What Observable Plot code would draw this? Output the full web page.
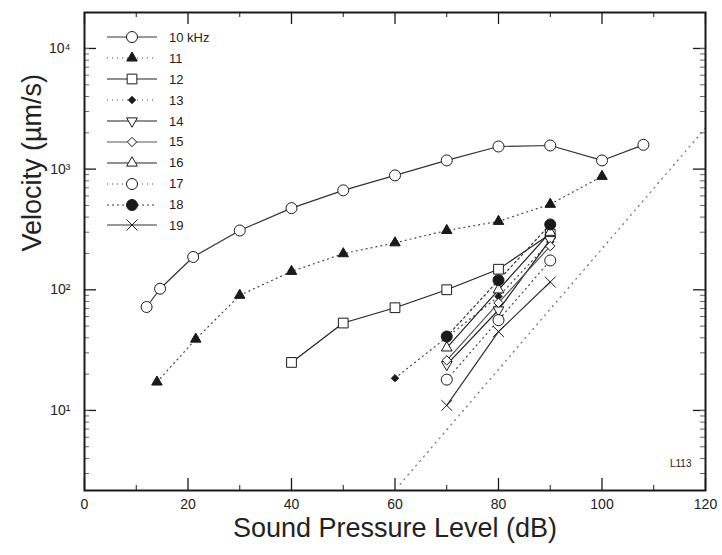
<!DOCTYPE html>
<html>
<head>
<meta charset="utf-8">
<script src="https://cdn.jsdelivr.net/npm/d3@7"></script>
<script src="https://cdn.jsdelivr.net/npm/@observablehq/plot@0.6"></script>
<style>
  html, body { margin: 0; padding: 0; background: #fff; }
  #wrap { position: relative; width: 722px; height: 555px; font-family: "Liberation Sans", Arial, sans-serif; }
  #legend { position: absolute; left: 107px; top: 27px; }
  .row { display: flex; align-items: center; height: 20.9px; }
  .row span { margin-left: 12px; font-size: 13px; color: #222; }
</style>
</head>
<body>
<div id="wrap"><div id="legend"></div></div>
<script>
// ---- data ----
const seriesNames = ["10 kHz", "11", "12", "13", "14", "15", "16", "17", "18", "19"];
const spl10 = [12, 14.6, 21, 30, 40, 50, 60, 70, 80, 90, 100, 108];
const vel10 = [72, 102, 187, 310, 475, 667, 887, 1180, 1540, 1570, 1180, 1590];
const spl11 = [14, 21.5, 30, 40, 50, 60, 70, 80, 90, 100];
const vel11 = [17.2, 39, 90, 142, 199, 245, 310, 369, 511, 871];
const spl12 = [40, 50, 60, 70, 80, 90];
const vel12 = [25, 53, 71, 100, 148, 290];
const spl13 = [60, 80, 90];
const vel13 = [18.5, 88, 250];
const spl14 = [70, 80, 90];
const vel14 = [24, 68, 260];
const spl15 = [70, 80, 90];
const vel15 = [26, 78, 230];
const spl16 = [70, 80, 90];
const vel16 = [33, 100, 300];
const spl17 = [70, 80, 90];
const vel17 = [18, 56, 175];
const spl18 = [70, 80, 90];
const vel18 = [41, 120, 348];
const spl19 = [70, 80, 90];
const vel19 = [11, 45, 116];
// dotted reference line (20 dB per decade)
const refSpl = [61, 120];
const refVel = [2.45, 2190];
const xTickValues = [0, 20, 40, 60, 80, 100, 120];
const xMinorValues = [10, 30, 50, 70, 90, 110];
const yTickValues = [10, 100, 1000, 10000];
const yTickLabels = ["10\u00b9", "10\u00b2", "10\u00b3", "10\u2074"];

// ---- styles ----
const sqrt3 = Math.sqrt(3);
const triangleDown = {
  draw(context, size) {
    const y = Math.sqrt(size / (sqrt3 * 3));
    context.moveTo(0, y * 2);
    context.lineTo(-sqrt3 * y, -y);
    context.lineTo(sqrt3 * y, -y);
    context.closePath();
  }
};
const ink = "#1a1a1a";
const styles = [
  {symbol: "circle", d3sym: d3.symbolCircle, filled: false, dash: null, r: 5.5, stroke: "#333"},
  {symbol: "triangle", d3sym: d3.symbolTriangle, filled: true, dash: "1,4", r: 3.9, stroke: "#444"},
  {symbol: "square", d3sym: d3.symbolSquare, filled: false, dash: null, r: 5.5, stroke: "#222"},
  {symbol: "diamond2", d3sym: d3.symbolDiamond2, filled: true, dash: "1,4", r: 3.3, stroke: "#444"},
  {symbol: triangleDown, d3sym: triangleDown, filled: false, dash: null, r: 4, stroke: "#222"},
  {symbol: "diamond2", d3sym: d3.symbolDiamond2, filled: false, dash: null, r: 4.2, stroke: "#555"},
  {symbol: "triangle", d3sym: d3.symbolTriangle, filled: false, dash: null, r: 4, stroke: "#222"},
  {symbol: "circle", d3sym: d3.symbolCircle, filled: false, dash: "1,4", r: 5.5, stroke: "#444"},
  {symbol: "circle", d3sym: d3.symbolCircle, filled: true, dash: "2,3", r: 5.5, stroke: "#333"},
  {symbol: "times", d3sym: d3.symbolTimes, filled: false, dash: null, r: 5, stroke: "#333"}
];
const splArrays = [spl10, spl11, spl12, spl13, spl14, spl15, spl16, spl17, spl18, spl19];
const velArrays = [vel10, vel11, vel12, vel13, vel14, vel15, vel16, vel17, vel18, vel19];
const series = seriesNames.map((name, i) => ({
  name, ...styles[i],
  data: splArrays[i].map((x, j) => ({spl: x, vel: velArrays[i][j]}))
}));
const refLine = refSpl.map((x, j) => ({spl: x, vel: refVel[j]}));

// minor log ticks
const yMinorValues = [];
for (const p of [1, 10, 100, 1000, 10000]) for (let m = 2; m <= 9; m++) {
  const v = m * p; if (v > 2.17 && v < 19860) yMinorValues.push(v);
}
yMinorValues.push(...yTickValues);

const W = 722, H = 555, mL = 84, mR = 17, mT = 12, mB = 65;
const innerH = H - mT - mB, innerW = W - mL - mR;

const marks = [
  Plot.line(refLine, {x: "spl", y: "vel", stroke: "#777", strokeDasharray: "1,5", strokeWidth: 1.3}),
  ...series.map(s => Plot.line(s.data, {x: "spl", y: "vel", stroke: s.stroke, strokeWidth: 1.2, strokeDasharray: s.dash})),
  ...series.map(s => Plot.dot(s.data, {x: "spl", y: "vel", symbol: s.symbol, r: s.r,
      fill: s.filled ? ink : (s.symbol === "times" ? "none" : "white"), stroke: ink, strokeWidth: 1})),
  // inward ticks on all sides
  Plot.tickX(xTickValues, {x: d => d, insetTop: innerH - 12, stroke: ink, strokeWidth: 1.3}),
  Plot.tickX(xMinorValues, {x: d => d, insetTop: innerH - 5, stroke: ink}),
  Plot.tickX(xTickValues, {x: d => d, insetBottom: innerH - 12, stroke: ink, strokeWidth: 1.3}),
  Plot.tickX(xMinorValues, {x: d => d, insetBottom: innerH - 5, stroke: ink}),
  Plot.tickY(yTickValues, {y: d => d, insetRight: innerW - 12, stroke: ink, strokeWidth: 1.3}),
  Plot.tickY(yMinorValues, {y: d => d, insetRight: innerW - 5, stroke: "#666"}),
  Plot.tickY(yTickValues, {y: d => d, insetLeft: innerW - 12, stroke: ink, strokeWidth: 1.3}),
  Plot.tickY(yMinorValues, {y: d => d, insetLeft: innerW - 5, stroke: "#666"}),
  Plot.frame({stroke: ink, strokeWidth: 2}),
  Plot.axisX({ticks: xTickValues, tickSize: 0, tickPadding: 9, fontSize: 14, label: null, fill: "#222"}),
  Plot.axisY({ticks: yTickValues, tickSize: 0, tickPadding: 14, fontSize: 14, label: null, fill: "#222",
      tickFormat: d => yTickLabels[yTickValues.indexOf(d)]}),
  Plot.text(["Sound Pressure Level (dB)"], {frameAnchor: "bottom", dy: 46, fontSize: 27, fill: "#222"}),
  Plot.text(["Velocity (\u00b5m/s)"], {frameAnchor: "left", dx: -52, rotate: -90, fontSize: 27, fill: "#222"}),
  Plot.text(["L113"], {frameAnchor: "bottom-right", dx: -14, dy: -24, fontSize: 10, fill: "#222"})
];

const chart = Plot.plot({
  width: W, height: H,
  marginLeft: mL, marginRight: mR, marginTop: mT, marginBottom: mB,
  x: {domain: [0, 120]},
  y: {type: "log", domain: [2.17, 19860]},
  style: {fontFamily: "'Liberation Sans', Arial, sans-serif", background: "white", color: "#222"},
  marks
});
document.getElementById("wrap").prepend(chart);

// legend built from the series definitions
const legend = document.getElementById("legend");
for (const s of series) {
  const row = document.createElement("div");
  row.className = "row";
  const svg = d3.create("svg").attr("width", 50).attr("height", 20);
  svg.append("line").attr("x1", 0).attr("x2", 50).attr("y1", 10).attr("y2", 10)
    .attr("stroke", s.stroke).attr("stroke-width", 1.2).attr("stroke-dasharray", s.dash);
  svg.append("path").attr("transform", "translate(25,10)")
    .attr("d", d3.symbol(s.d3sym, s.r * s.r * Math.PI)())
    .attr("fill", s.filled ? ink : (s.symbol === "times" ? "none" : "white"))
    .attr("stroke", ink).attr("stroke-width", 1);
  row.appendChild(svg.node());
  const label = document.createElement("span");
  label.textContent = s.name;
  row.appendChild(label);
  legend.appendChild(row);
}
</script>
</body>
</html>
